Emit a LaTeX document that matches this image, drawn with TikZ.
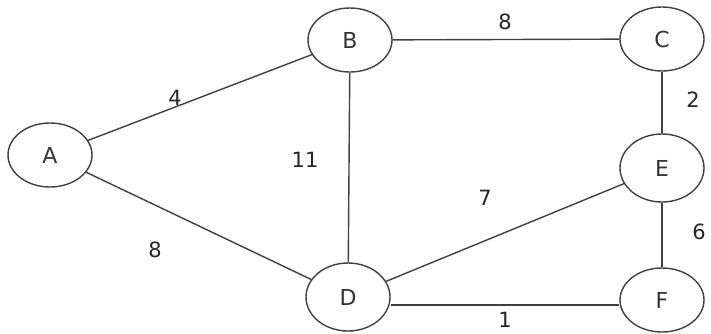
\documentclass[tikz,border=0pt]{standalone}
\usepackage{fontspec}
\setmainfont{DejaVu Sans}
\usetikzlibrary{shapes.geometric}
\begin{document}
\begin{tikzpicture}[x=1pt,y=-1pt,
  vtx/.style={ellipse,draw=black!75,line width=1.4pt,minimum width=84pt,minimum height=64pt,inner sep=0pt,font=\fontsize{22}{26}\selectfont,text=black!80},
  edge/.style={draw=black!75,line width=1.4pt},
  wt/.style={font=\fontsize{21}{25}\selectfont,text=black!85,inner sep=1pt}]
\useasboundingbox (0,0) rectangle (711,333);
\node[vtx] (A) at (50,155) {A};
\node[vtx] (B) at (350,40) {B};
\node[vtx] (C) at (662,39) {C};
\node[vtx,minimum height=68pt] (E) at (662,168) {E};
\node[vtx,minimum height=68pt] (D) at (348,297) {D};
\node[vtx] (F) at (662,300) {F};
\draw[edge] (A) -- (B);
\draw[edge] (A) -- (D);
\draw[edge] (B) -- (C);
\draw[edge] (B) -- (D);
\draw[edge] (C) -- (E);
\draw[edge] (D) -- (E);
\draw[edge] (E) -- (F);
\draw[edge] (D.east |- 0,305) -- (F.west |- 0,305);
\node[wt] (w1) at (175,98) {4};
\node[wt] (w2) at (505,22) {8};
\node[wt] (w3) at (693,100) {2};
\node[wt] (w4) at (305,160) {11};
\node[wt] (w5) at (485,198) {7};
\node[wt] (w6) at (155,250) {8};
\node[wt] (w7) at (699,232) {6};
\node[wt] (w8) at (505,320) {1};
\end{tikzpicture}
\end{document}
